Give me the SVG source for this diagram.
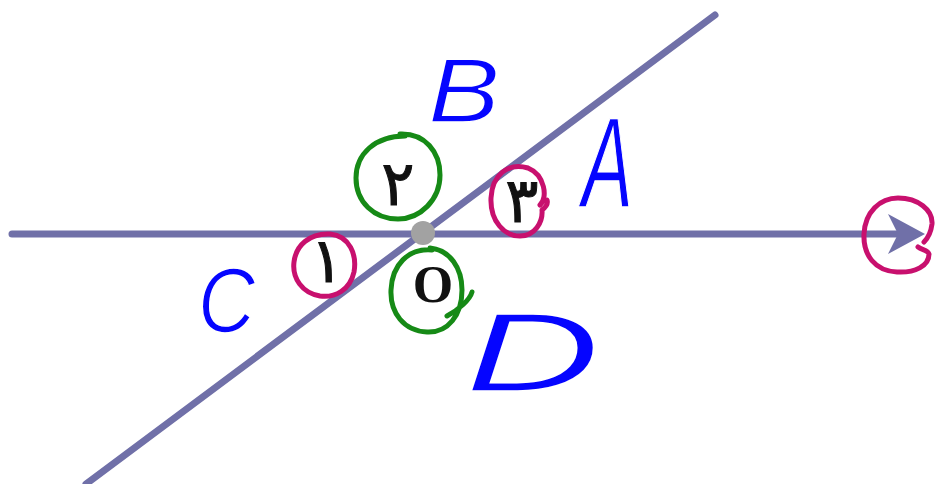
<svg xmlns="http://www.w3.org/2000/svg" width="937" height="484" viewBox="0 0 937 484">
  <style>
    .ln { stroke: #7070a8; stroke-width: 7; fill: none; stroke-linecap: round; }
    .hw { fill: none; stroke-width: 5; stroke-linecap: round; stroke-linejoin: round; }
    .g { stroke: #168a16; }
    .m { stroke: #c8106e; }
    .lbl { font-family: "Liberation Sans", Arial, sans-serif; font-style: italic; fill: #0505ff; stroke: #ffffff; stroke-width: 1.5; paint-order: fill; }
    .dig { font-family: "DejaVu Sans", "Noto Sans", sans-serif; font-weight: normal; fill: #111; text-anchor: middle; stroke: #111; stroke-width: 1; }
  </style>
  <rect width="937" height="484" fill="#ffffff"/>
  <g id="connectors">
    <line class="ln" x1="12" y1="234" x2="900" y2="234" stroke-linecap="butt"/>
    <polygon points="925,234 888,214 898,234 888,254" fill="#7070a8"/>
    <line class="ln" x1="715" y1="15" x2="86" y2="484"/>
  </g>
  <g id="point-O">
    <circle cx="423" cy="233" r="12" fill="#a2a2a2"/>
  </g>
  <g id="angle-2">
    <path class="hw g" d="M 400 134 C 425 133, 440 152, 440 175 C 440 200, 420 219, 398 219 C 374 219, 356 202, 356 178 C 356 154, 375 136, 405 136"/>
    <text class="dig" x="398" y="205" font-size="62">۲</text>
  </g>
  <g id="angle-3">
    <path class="hw m" d="M 540 205 C 548 198, 545 175, 528 168 C 508 162, 492 175, 491 198 C 490 222, 505 236, 520 236 C 535 236, 543 222, 542 210 C 546 207, 548 203, 547 200"/>
    <text class="dig" x="522" y="222" font-size="62">۳</text>
  </g>
  <g id="angle-1">
    <path class="hw m" d="M 330 234 C 350 236, 357 255, 354 272 C 350 290, 335 298, 320 296 C 302 293, 292 278, 294 262 C 296 245, 310 233, 330 234"/>
    <text class="dig" x="327" y="282" font-size="62">۱</text>
  </g>
  <g id="label-O">
    <path class="hw g" d="M 430 248 C 450 250, 462 268, 462 290 C 462 315, 448 333, 427 332 C 404 331, 390 313, 391 290 C 392 265, 408 248, 432 250 M 447 316 C 458 310, 470 300, 472 292"/>
    <text x="433" y="302" font-family="Liberation Serif, 'Times New Roman', serif" font-weight="bold" font-size="52" text-anchor="middle" fill="#111">O</text>
  </g>
  <g id="arrow-mark">
    <path class="hw m" d="M 918 247 C 922 250, 928 250, 929 254 C 929 266, 915 273, 897 272 C 875 271, 863 255, 864 234 C 865 212, 880 198, 898 198 C 918 198, 933 210, 932 224 C 931 232, 928 238, 924 242"/>
  </g>
  <g id="label-B"><text class="lbl" x="428" y="122" font-size="90" textLength="72" lengthAdjust="spacingAndGlyphs">B</text></g>
  <g id="label-A"><text class="lbl" x="582" y="207" font-size="128" textLength="51" lengthAdjust="spacingAndGlyphs">A</text></g>
  <g id="label-C"><text class="lbl" x="198" y="332" font-size="90" textLength="57" lengthAdjust="spacingAndGlyphs">C</text></g>
  <g id="label-D"><text class="lbl" x="465" y="391" font-size="112" textLength="135" lengthAdjust="spacingAndGlyphs" stroke-width="6">D</text></g>
</svg>
